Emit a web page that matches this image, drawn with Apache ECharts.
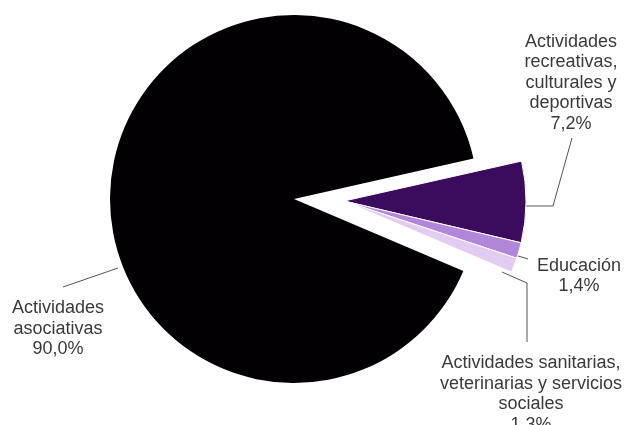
<!DOCTYPE html>
<html>
<head>
<meta charset="utf-8">
<script src="https://cdn.jsdelivr.net/npm/echarts@6/dist/echarts.min.js"></script>
<style>
html,body{margin:0;padding:0;background:#fff;}
#chart{width:629px;height:425px;}
</style>
</head>
<body>
<div id="chart"></div>
<script>
// Data
var categories = [
  'Actividades asociativas',
  'Actividades recreativas, culturales y deportivas',
  'Educación',
  'Actividades sanitarias, veterinarias y servicios sociales'
];
var values = [90.0, 7.2, 1.4, 1.3];
var labelTexts = [
  'Actividades\nasociativas',
  'Actividades\nrecreativas,\nculturales y\ndeportivas',
  'Educación',
  'Actividades sanitarias,\nveterinarias y servicios\nsociales'
];
var colors = ['#020002', '#3b0b5d', '#b286d8', '#e3ccf2'];

// Layout (styling only)
var labelPos = [
  {x: 58, y: 329},
  {x: 571, y: 83},
  {x: 579, y: 276},
  {x: 531, y: 394}
];
var leaderPts = [
  [[118, 268], [63, 287]],
  [[517, 206], [553, 206], [572, 138]],
  [[505, 252], [528, 259]],
  [[502, 272], [527, 283], [527, 342]]
];

function fmt(v) { return v.toFixed(1).replace('.', ',') + '%'; }

function buildData(visibleSet) {
  return categories.map(function (name, i) {
    var visible = visibleSet.indexOf(i) >= 0;
    return {
      name: name,
      value: values[i],
      itemStyle: visible ? {color: colors[i]} : {color: 'rgba(0,0,0,0)', borderWidth: 0},
      label: {show: visible},
      labelLine: {show: visible}
    };
  });
}

var labelStyle = {
  position: 'outside',
  fontFamily: 'Liberation Sans, Arial, sans-serif',
  fontSize: 18,
  lineHeight: 20.5,
  color: '#3a3a3a',
  align: 'center',
  formatter: function (p) { return labelTexts[p.dataIndex] + '\n' + fmt(p.value); }
};

function layoutFn(p) {
  var i = p.dataIndex;
  return {
    x: labelPos[i].x,
    y: labelPos[i].y,
    align: 'center',
    verticalAlign: 'middle',
    labelLinePoints: leaderPts[i]
  };
}

var chart = echarts.init(document.getElementById('chart'), null, {renderer: 'canvas'});
chart.setOption({
  animation: false,
  backgroundColor: '#ffffff',
  series: [
    {
      type: 'pie',
      center: [294, 199],
      radius: [0, 184],
      startAngle: 337,
      clockwise: true,
      avoidLabelOverlap: false,
      silent: true,
      itemStyle: {borderWidth: 0},
      label: labelStyle,
      labelLine: {show: true, lineStyle: {color: '#555', width: 1}},
      labelLayout: layoutFn,
      data: buildData([0])
    },
    {
      type: 'pie',
      center: [344, 201],
      radius: [0, 182],
      startAngle: 337,
      clockwise: true,
      avoidLabelOverlap: false,
      silent: true,
      itemStyle: {borderColor: '#ffffff', borderWidth: 1},
      label: labelStyle,
      labelLine: {show: true, lineStyle: {color: '#555', width: 1}},
      labelLayout: layoutFn,
      data: buildData([1, 2, 3])
    }
  ]
});
</script>
</body>
</html>
